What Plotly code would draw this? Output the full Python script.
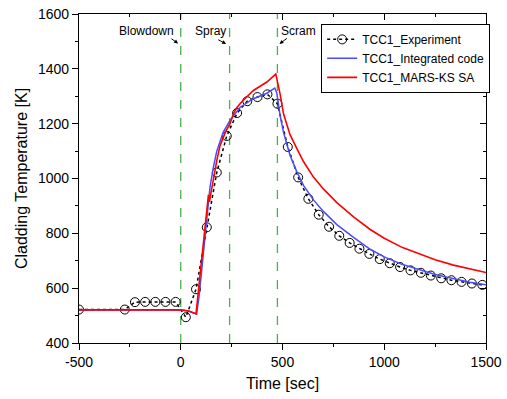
import plotly.graph_objects as go

# Experiment (circles + dotted line)
exp_time = [-500, -275, -225, -175, -125, -75, -25, 25, 75, 128, 177, 226, 277, 327, 377, 426, 475,
            526, 577, 627, 678, 729, 779, 830, 878, 927, 978, 1027, 1078, 1129, 1180, 1229, 1280,
            1330, 1380, 1431, 1482]
exp_temp = [522, 522, 549, 550, 550, 550, 550, 494, 596, 822, 1022, 1155, 1239, 1282, 1297, 1307, 1273,
            1115, 1004, 926, 868, 824, 791, 765, 744, 725, 706, 691, 677, 665, 656, 646, 636,
            629, 623, 617, 612]

# Integrated code (blue)
int_time = [-500, 0, 40, 78, 90, 110, 128, 144, 160, 177, 209, 242, 292, 357, 423, 462, 472,
            488, 505, 537, 570, 603, 652, 701, 767, 849, 931, 1000, 1090, 1250, 1420, 1500]
int_temp = [520, 520, 516, 506, 570, 720, 860, 970, 1040, 1100, 1169, 1212, 1260, 1291, 1311, 1330, 1312,
            1230, 1168, 1085, 1025, 975, 922, 880, 832, 785, 742, 714, 686, 650, 622, 612]

# MARS-KS SA (red)
mars_time = [-500, 0, 40, 75, 136, 141, 148, 160, 177, 193, 220, 242, 260, 275, 300, 357, 423, 467,
             488, 505, 537, 570, 603, 652, 701, 767, 849, 931, 1000, 1090, 1180, 1250, 1340, 1420, 1500]
mars_temp = [521, 521, 517, 506, 940, 915, 945, 1000, 1065, 1120, 1170, 1200, 1238, 1258, 1280, 1321, 1352, 1381,
             1309, 1236, 1160, 1110, 1062, 1005, 962, 912, 860, 814, 782, 748, 722, 704, 684, 670, 657]

x_ticks = [-500, 0, 500, 1000, 1500]
x_ticklabels = ["-500", "0", "500", "1000", "1500"]
y_ticks = [400, 600, 800, 1000, 1200, 1400, 1600]

event_times = [0, 240, 475]
event_labels = ["Blowdown", "Spray", "Scram"]
label_x = [-170, 147, 578]
arrow_tail = [(-53, 1514), (177, 1509), (529, 1515)]
arrow_head = [(-13, 1492), (223, 1491), (485, 1491)]

FONT = "Liberation Sans, Arial, sans-serif"

fig = go.Figure()

fig.add_trace(go.Scatter(
    x=exp_time, y=exp_temp, mode="lines+markers", name="TCC1_Experiment",
    line=dict(color="black", width=1.5, dash="dot"),
    marker=dict(symbol="circle-open", size=9, color="black", line=dict(width=1)),
))
fig.add_trace(go.Scatter(
    x=int_time, y=int_temp, mode="lines", name="TCC1_Integrated code",
    line=dict(color="#4a4aff", width=1.5),
))
fig.add_trace(go.Scatter(
    x=mars_time, y=mars_temp, mode="lines", name="TCC1_MARS-KS SA",
    line=dict(color="#ff0000", width=1.6),
))
# invisible helper trace for mirrored top/right axes
fig.add_trace(go.Scatter(x=[None], y=[None], xaxis="x2", yaxis="y2", showlegend=False,
                         hoverinfo="skip", mode="lines"))

for t in event_times:
    fig.add_shape(type="line", xref="x", yref="paper", x0=t, x1=t, y0=0, y1=1,
                  line=dict(color="#4caf50", width=1.3, dash="dash"), layer="below")

for lab, lx, tail, head in zip(event_labels, label_x, arrow_tail, arrow_head):
    fig.add_annotation(x=lx, y=1539, xref="x", yref="y", text=lab, showarrow=False,
                       font=dict(family=FONT, size=12, color="black"))
    fig.add_annotation(x=head[0], y=head[1], ax=tail[0], ay=tail[1], xref="x", yref="y",
                       axref="x", ayref="y", text="", showarrow=True, arrowhead=2,
                       arrowsize=0.8, arrowwidth=1, arrowcolor="black")

axis_common = dict(showline=True, linecolor="black", linewidth=1.2, showgrid=False, zeroline=False,
                   tickfont=dict(family=FONT, size=14, color="black"), ticklen=6, tickwidth=1,
                   tickcolor="black", automargin=False)

fig.update_layout(
    width=507, height=399,
    margin=dict(l=79, r=21, t=14, b=56),
    paper_bgcolor="white", plot_bgcolor="white",
    font=dict(family=FONT, color="black"),
    xaxis=dict(range=[-500, 1500], tickvals=x_ticks, ticktext=x_ticklabels, ticks="outside",
               minor=dict(tickvals=[-250, 250, 750, 1250], ticks="outside", ticklen=3, tickcolor="black"),
               title=dict(text="Time [sec]", font=dict(family=FONT, size=16), standoff=8),
               **axis_common),
    yaxis=dict(range=[400, 1600], tickvals=y_ticks, ticks="outside",
               minor=dict(tickvals=[500, 700, 900, 1100, 1300, 1500], ticks="outside", ticklen=3,
                          tickcolor="black"),
               title=dict(text="Cladding Temperature [K]", font=dict(family=FONT, size=16), standoff=6),
               **axis_common),
    xaxis2=dict(overlaying="x", side="top", range=[-500, 1500], tickvals=x_ticks,
                ticks="inside", showticklabels=False,
                minor=dict(tickvals=[-250, 250, 750, 1250], ticks="inside", ticklen=3, tickcolor="black"),
                **axis_common),
    yaxis2=dict(overlaying="y", side="right", range=[400, 1600],
                tickvals=y_ticks, ticks="inside", showticklabels=False,
                minor=dict(tickvals=[500, 700, 900, 1100, 1300, 1500], ticks="inside", ticklen=3,
                           tickcolor="black"),
                **axis_common),
    legend=dict(x=0.595, y=0.97, xanchor="left", yanchor="top", bgcolor="white",
                bordercolor="black", borderwidth=1, font=dict(family=FONT, size=12),
                tracegroupgap=0, itemwidth=30),
    showlegend=True,
)

# remove the default page margin so the 507x399 figure fills the window exactly
fig.write_html("out.html", config={"displayModeBar": False},
               post_script="document.body.style.margin='0';")
